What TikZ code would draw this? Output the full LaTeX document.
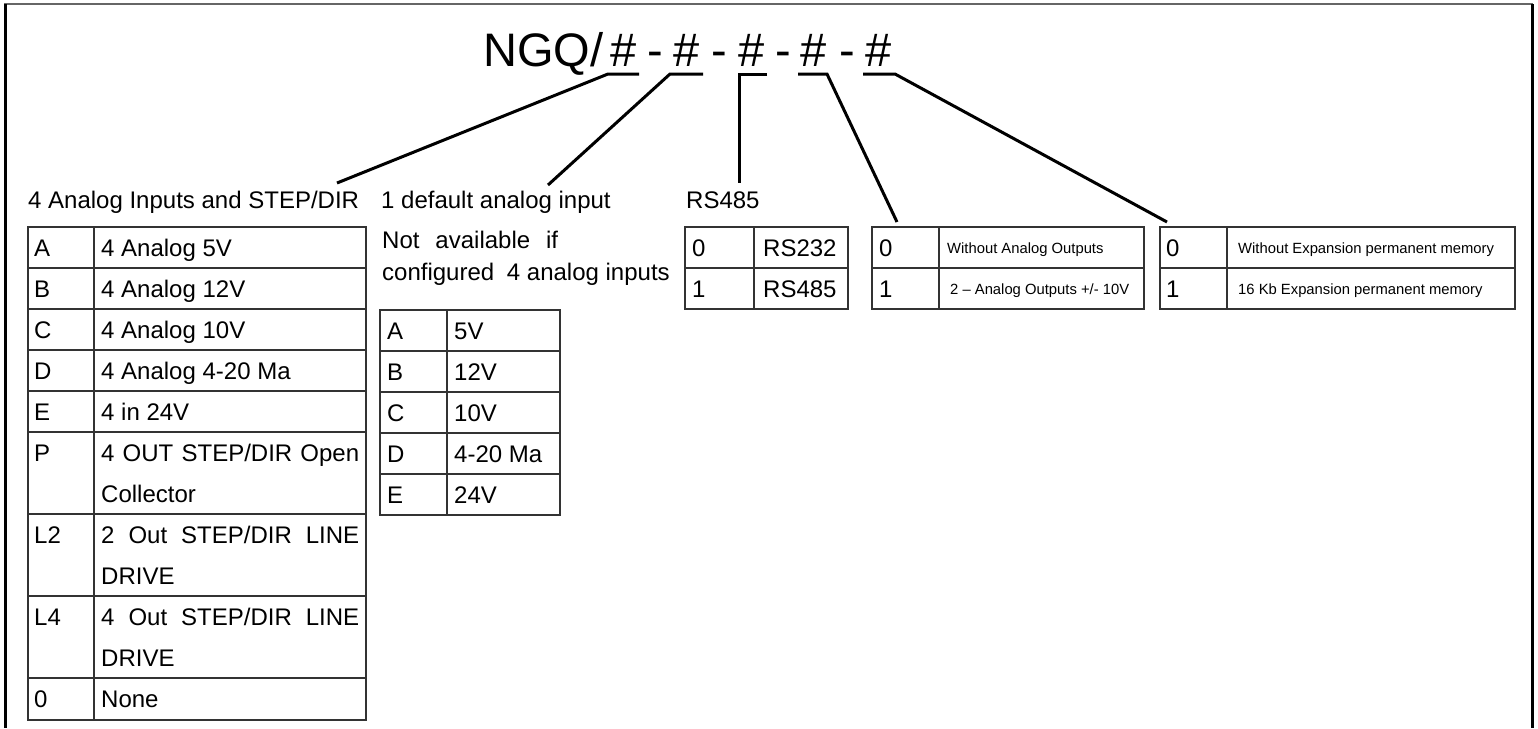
\documentclass[tikz,border=0pt]{standalone}
\usepackage{fontspec}
\setmainfont{Liberation Sans}
\begin{document}
\begin{tikzpicture}[x=1pt,y=-1pt,
  big/.style={font=\fontsize{24}{28}\selectfont, anchor=base west, inner sep=0pt},
  sml/.style={font=\fontsize{14.8}{18}\selectfont, anchor=base west, inner sep=0pt},
  title/.style={font=\fontsize{47}{54}\selectfont, anchor=base west, inner sep=0pt},
  tch/.style={font=\fontsize{47}{54}\selectfont, anchor=base, inner sep=0pt},
  grid/.style={draw=black!80, line width=1.2pt},
  conn/.style={draw=black, line width=3pt, line join=miter},
  frame/.style={draw=black, line width=3pt}]
\useasboundingbox (0,0) rectangle (1538,728);
% frame
\draw[draw=black!60, line width=1.5pt] (4,4) -- (1533,4);
\draw[frame] (5,4) -- (5,728);
\draw[frame] (1532,4) -- (1532,728);

% title
\node[title] (ttl) at (483,66) {NGQ/};
\node[tch] (h1c) at (623.5,66) {\#};
\node[tch] (d1) at (655,66) {-};
\node[tch] (h2c) at (686.5,66) {\#};
\node[tch] (d2) at (719,66) {-};
\node[tch] (h3c) at (752,66) {\#};
\node[tch] (d3) at (783,66) {-};
\node[tch] (h4c) at (814,66) {\#};
\node[tch] (d4) at (847,66) {-};
\node[tch] (h5c) at (879,66) {\#};

% connector coordinates
\coordinate (u1a) at (608,74); \coordinate (u1b) at (639,74);
\coordinate (u2a) at (670,74); \coordinate (u2b) at (703,74);
\coordinate (u3a) at (739,74); \coordinate (u3b) at (767,74);
\coordinate (u4a) at (798,74); \coordinate (u4b) at (827,74);
\coordinate (u5a) at (863,74); \coordinate (u5b) at (895,74);
\coordinate (e1) at (337,183);
\coordinate (e2) at (548,185);
\coordinate (e3) at (739,183);
\coordinate (e4) at (897,222);
\coordinate (e5) at (1167,222);
\draw[conn] (u1b) -- (u1a) -- (e1);
\draw[conn] (u2b) -- (u2a) -- (e2);
\draw[conn] (u3b) -- (u3a) -- (e3);
\draw[conn] (u4a) -- (u4b) -- (e4);
\draw[conn] (u5a) -- (u5b) -- (e5);

% ---------- Table 1 ----------
\node[big] (h1) at (28,208) {4 Analog Inputs and STEP/DIR};
\draw[grid] (28,227) rectangle (366,720);
\draw[grid] (94,227) -- (94,720);
\foreach \y in {268,309,350,391,432,514,596,678} \draw[grid] (28,\y) -- (366,\y);
\node[big] (t1a) at (34,256) {A}; \node[big] (t1av) at (101,256) {4 Analog 5V};
\node[big] (t1b) at (34,297) {B}; \node[big] (t1bv) at (101,297) {4 Analog 12V};
\node[big] (t1c) at (34,338) {C}; \node[big] (t1cv) at (101,338) {4 Analog 10V};
\node[big] (t1d) at (34,379) {D}; \node[big] (t1dv) at (101,379) {4 Analog 4-20 Ma};
\node[big] (t1e) at (34,420) {E}; \node[big] (t1ev) at (101,420) {4 in 24V};
\node[big] (t1p) at (34,461) {P}; \node[big] (t1pv) at (101,461) {\makebox[258pt][s]{4 OUT STEP/DIR Open}};
\node[big] (t1pw) at (101,502) {Collector};
\node[big] (t1l2) at (34,543) {L2}; \node[big] (t1l2v) at (101,543) {\makebox[258pt][s]{2 Out STEP/DIR LINE}};
\node[big] (t1l2w) at (101,584) {DRIVE};
\node[big] (t1l4) at (34,625) {L4}; \node[big] (t1l4v) at (101,625) {\makebox[258pt][s]{4 Out STEP/DIR LINE}};
\node[big] (t1l4w) at (101,666) {DRIVE};
\node[big] (t1z) at (34,707) {0}; \node[big] (t1zv) at (101,707) {None};

% ---------- Table 2 ----------
\node[big] (h2) at (381,208) {1 default analog input};
\node[big] (h2a) at (382,248) {\makebox[176pt][s]{Not available if}};
\node[big] (h2b) at (382,280) {configured\hspace{6pt} 4 analog inputs};
\draw[grid] (380,310) rectangle (560,515);
\draw[grid] (447,310) -- (447,515);
\foreach \y in {351,392,433,474} \draw[grid] (380,\y) -- (560,\y);
\node[big] (t2a) at (387,339) {A}; \node[big] (t2av) at (454,339) {5V};
\node[big] (t2b) at (387,380) {B}; \node[big] (t2bv) at (454,380) {12V};
\node[big] (t2c) at (387,421) {C}; \node[big] (t2cv) at (454,421) {10V};
\node[big] (t2d) at (387,462) {D}; \node[big] (t2dv) at (454,462) {4-20 Ma};
\node[big] (t2e) at (387,503) {E}; \node[big] (t2ev) at (454,503) {24V};

% ---------- Table 3 ----------
\node[big] (h3) at (686,208) {RS485};
\draw[grid] (685,227) rectangle (848,309);
\draw[grid] (754,227) -- (754,309);
\draw[grid] (685,268) -- (848,268);
\node[big] (t3a) at (692,256) {0}; \node[big] (t3av) at (763,256) {RS232};
\node[big] (t3b) at (692,297) {1}; \node[big] (t3bv) at (763,297) {RS485};

% ---------- Table 4 ----------
\draw[grid] (872,227) rectangle (1144,309);
\draw[grid] (939,227) -- (939,309);
\draw[grid] (872,268) -- (1144,268);
\node[big] (t4a) at (879,256) {0}; \node[sml] (t4av) at (947,253) {Without Analog Outputs};
\node[big] (t4b) at (879,297) {1}; \node[sml] (t4bv) at (950,294) {2 -- Analog Outputs +/- 10V};

% ---------- Table 5 ----------
\draw[grid] (1160,227) rectangle (1515,309);
\draw[grid] (1227,227) -- (1227,309);
\draw[grid] (1160,268) -- (1515,268);
\node[big] (t5a) at (1166,256) {0}; \node[sml] (t5av) at (1238,253) {Without Expansion permanent memory};
\node[big] (t5b) at (1166,297) {1}; \node[sml] (t5bv) at (1238,294) {16 Kb Expansion permanent memory};
\end{tikzpicture}
\end{document}
